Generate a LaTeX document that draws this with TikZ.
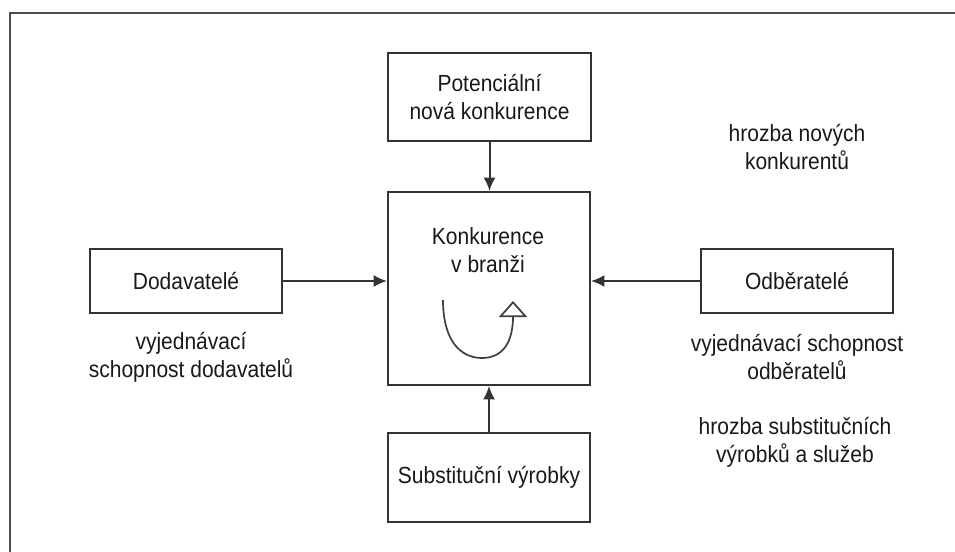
\documentclass[tikz,border=0pt]{standalone}
\usepackage{fontspec}
\setmainfont[FakeStretch=0.9]{Liberation Sans}
\usetikzlibrary{arrows.meta}
\begin{document}
\begin{tikzpicture}[x=0.75pt,y=-0.75pt,
  every node/.style={font=\fontsize{17.5}{21}\selectfont, text=black!90},
  boxnode/.style={draw=black!80, line width=1.5pt, inner sep=0pt, align=center},
  lbl/.style={align=center, inner sep=0pt},
  conn/.style={draw=black!80, line width=1.5pt, -{Latex[length=10pt,width=9pt]}},
]
\useasboundingbox (0,0) rectangle (955,552);
\fill[white] (0,0) rectangle (955,552);
% frame
\coordinate (ftl) at (10,13);
\coordinate (ftr) at (955,13);
\coordinate (fbl) at (10,552);
\draw[black!70, line width=1.6pt] (ftr) -- (ftl) -- (fbl);

% boxes
\node[boxnode, minimum width=0.75*203pt, minimum height=0.75*88pt] (pot) at (489.5,97) {Potenciální\\nová konkurence};
\node[boxnode, minimum width=0.75*202pt, minimum height=0.75*193pt] (center) at (489,288.5) {};
\node[boxnode, minimum width=0.75*192pt, minimum height=0.75*64pt] (dod) at (186,281) {Dodavatelé};
\node[boxnode, minimum width=0.75*192pt, minimum height=0.75*64pt] (odb) at (797,281) {Odběratelé};
\node[boxnode, minimum width=0.75*202pt, minimum height=0.75*89pt] (sub) at (489,477.5) {Substituční výrobky};

% center text
\node[lbl] (konk) at (488,250) {Konkurence\\v branži};

% labels
\node[lbl] (hn) at (797,147) {hrozba nových\\konkurentů};
\node[lbl] (vd) at (191,357) {vyjednávací\\schopnost dodavatelů};
\node[lbl] (vo) at (797,357) {vyjednávací schopnost\\odběratelů};
\node[lbl] (hs) at (795,442) {hrozba substitučních\\výrobků a služeb};

% connectors
\draw[conn] (pot.south) -- (pot.south |- center.north);
\draw[conn] (sub.north) -- (sub.north |- center.south);
\draw[conn] (dod.east) -- (dod.east -| center.west);
\draw[conn] (odb.west) -- (odb.west -| center.east);

% circular arrow
\coordinate (cs) at (443,300);
\coordinate (cb) at (482,358);
\coordinate (ce) at (513,301);
\draw[black!75, line width=1.3pt, -{Triangle[open,width=21pt,length=12pt,line width=1.3pt]}]
  (cs) .. controls (443,340) and (460,358) .. (cb)
       .. controls (503,358) and (513,342) .. (ce);
\end{tikzpicture}
\end{document}
